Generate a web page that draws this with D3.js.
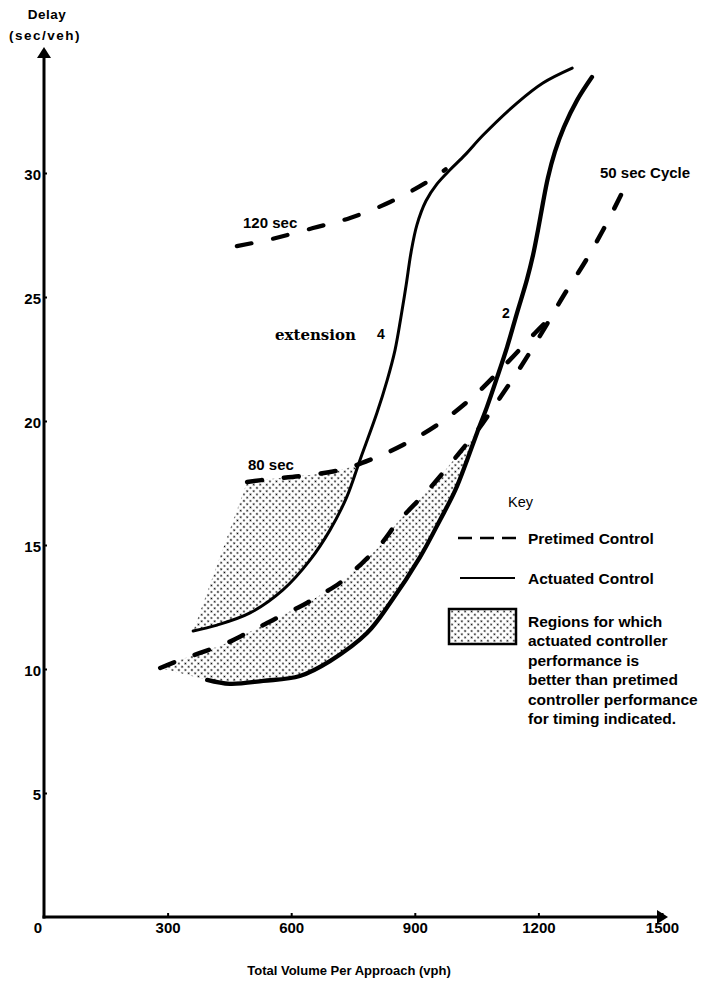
<!DOCTYPE html>
<html>
<head>
<meta charset="utf-8">
<script src="https://cdn.jsdelivr.net/npm/d3@7"></script>
<style>
  body { margin: 0; background: #fff; }
  text { font-family: "Liberation Sans", Arial, Helvetica, sans-serif; fill: #000; }
</style>
</head>
<body>
<svg id="chart" width="707" height="985"></svg>
<script>
// Axis ticks
const xTicks = [0, 300, 600, 900, 1200, 1500];
const yTicks = [5, 10, 15, 20, 25, 30];

// Pretimed control delay (vph, sec/veh) by cycle length
const pretimed120 = [[468, 27.05], [553, 27.34], [653, 27.78], [743, 28.19], [840, 28.83], [930, 29.64], [975, 30.15]];
const pretimed80 = [[493, 17.54], [549, 17.66], [621, 17.78], [718, 18.02], [791, 18.43], [871, 19.03],
                    [961, 19.92], [1041, 20.97], [1119, 22.26], [1192, 23.55], [1223, 24.07]];
const pretimed50 = [[282, 10.04], [330, 10.36], [386, 10.69], [444, 11.05], [493, 11.45], [532, 11.77],
                    [580, 12.18], [629, 12.58], [670, 12.98], [718, 13.47], [767, 14.19], [816, 15.0],
                    [857, 15.89], [937, 17.3], [1010, 18.75], [1053, 19.64], [1100, 20.77], [1160, 22.26],
                    [1218, 23.83], [1262, 25.08], [1313, 26.41], [1357, 27.7], [1398, 29.03], [1410, 29.44]];

// Actuated control delay (vph, sec/veh) by unit extension
const actuated4 = [[362, 11.53], [420, 11.77], [500, 12.26], [580, 13.19], [646, 14.4], [694, 15.6],
                   [735, 16.94], [767, 18.43], [808, 20.32], [833, 21.65], [852, 22.86], [866, 24.15],
                   [879, 25.48], [891, 26.81], [905, 27.9], [927, 28.87], [954, 29.56], [985, 30.12],
                   [1022, 30.73], [1066, 31.53], [1148, 32.82], [1211, 33.63], [1282, 34.23]];
const actuated2 = [[396, 9.56], [451, 9.4], [532, 9.52], [621, 9.72], [694, 10.32], [784, 11.45],
                   [840, 12.66], [913, 14.52], [961, 16.0], [998, 17.2], [1027, 18.43], [1051, 19.52],
                   [1075, 20.56], [1100, 21.77], [1124, 22.98], [1148, 24.35], [1172, 25.69], [1187, 26.69],
                   [1199, 27.7], [1211, 28.79], [1223, 29.8], [1240, 30.85], [1262, 31.85], [1294, 32.94],
                   [1330, 33.87]];

const svg = d3.select("#chart");
const x = d3.scaleLinear().domain([0, 1500]).range([44, 662]);
const y = d3.scaleLinear().domain([0, 30]).range([917, 173]);

// Stipple used for the shaded regions
const defs = svg.append("defs");
const pat = defs.append("pattern")
  .attr("id", "stipple").attr("patternUnits", "userSpaceOnUse")
  .attr("width", 4.6).attr("height", 4.6)
  .attr("patternTransform", "rotate(45)");
pat.append("circle").attr("cx", 2.3).attr("cy", 2.3).attr("r", 0.95).attr("fill", "#000");

const line = d3.line()
  .x(d => x(d[0])).y(d => y(d[1]))
  .curve(d3.curveCatmullRom.alpha(0.5));

const shadeLayer = svg.append("g");
const curveLayer = svg.append("g").attr("fill", "none").attr("stroke", "#000");

function drawCurve(data, width, dashed) {
  const p = curveLayer.append("path")
    .attr("d", line(data))
    .attr("stroke-width", width)
    .attr("stroke-linecap", "round")
    .attr("stroke-linejoin", "round");
  if (dashed) p.attr("stroke-dasharray", "15 22");
  return p.node();
}

const p120 = drawCurve(pretimed120, 4.2, true);
const p80 = drawCurve(pretimed80, 4.5, true);
const p50 = drawCurve(pretimed50, 4.5, true);
const a4 = drawCurve(actuated4, 3, false);
const a2 = drawCurve(actuated2, 4.3, false);

// Polyline samples of a rendered curve
function sample(node, step) {
  const L = node.getTotalLength(), pts = [];
  for (let s = 0; s < L; s += step) { const q = node.getPointAtLength(s); pts.push([q.x, q.y]); }
  const e = node.getPointAtLength(L); pts.push([e.x, e.y]);
  return pts;
}
function segX(p1, p2, p3, p4) {
  const d = (p2[0] - p1[0]) * (p4[1] - p3[1]) - (p2[1] - p1[1]) * (p4[0] - p3[0]);
  if (Math.abs(d) < 1e-9) return null;
  const t = ((p3[0] - p1[0]) * (p4[1] - p3[1]) - (p3[1] - p1[1]) * (p4[0] - p3[0])) / d;
  const u = ((p3[0] - p1[0]) * (p2[1] - p1[1]) - (p3[1] - p1[1]) * (p2[0] - p1[0])) / d;
  if (t < 0 || t > 1 || u < 0 || u > 1) return null;
  return [p1[0] + t * (p2[0] - p1[0]), p1[1] + t * (p2[1] - p1[1])];
}
// Region enclosed by two curves from their starts up to their first crossing
function region(nodeA, nodeB) {
  const a = sample(nodeA, 1), b = sample(nodeB, 1);
  for (let i = 0; i < a.length - 1; i++) {
    for (let j = 0; j < b.length - 1; j++) {
      const pt = segX(a[i], a[i + 1], b[j], b[j + 1]);
      if (pt) return a.slice(0, i + 1).concat([pt], b.slice(0, j + 1).reverse());
    }
  }
  return a.concat(b.slice().reverse());
}
shadeLayer.append("path").attr("d", d3.line()(region(p80, a4)) + "Z").attr("fill", "url(#stipple)");
shadeLayer.append("path").attr("d", d3.line()(region(p50, a2)) + "Z").attr("fill", "url(#stipple)");

// Axes
const yAxis = svg.append("g").attr("transform", `translate(${x(0)},0)`)
  .call(d3.axisLeft(y).tickValues(yTicks).tickSize(-3).tickPadding(3).tickFormat(d3.format("d")));
const xAxis = svg.append("g").attr("transform", `translate(0,${y(0)})`)
  .call(d3.axisBottom(x).tickValues(xTicks.filter(v => v > 0)).tickSize(-4).tickPadding(5).tickFormat(d3.format("d")));
[yAxis, xAxis].forEach(g => {
  g.select(".domain").remove();
  g.selectAll(".tick line").attr("stroke", "#000").attr("stroke-width", 2);
  g.selectAll(".tick text").style("font-size", "15px").style("font-weight", "bold")
    .style("font-family", "'Liberation Sans', Arial, sans-serif");
});
yAxis.selectAll(".tick text").attr("dy", "0.4em");
// Shared origin label
svg.append("text").attr("x", x(0) - 6).attr("y", 933).attr("text-anchor", "middle")
  .style("font-size", "15px").style("font-weight", "bold").text(xTicks[0]);

// Axis lines with arrowheads
const yTop = 47, xEnd = 668;
svg.append("line").attr("x1", x(0)).attr("y1", y(0) + 1.5).attr("x2", x(0)).attr("y2", yTop + 8)
  .attr("stroke", "#000").attr("stroke-width", 3);
svg.append("line").attr("x1", x(0) - 1.5).attr("y1", y(0)).attr("x2", xEnd - 8).attr("y2", y(0))
  .attr("stroke", "#000").attr("stroke-width", 3);
svg.append("path").attr("d", `M${x(0)},${yTop}L${x(0) + 7},${yTop + 11}L${x(0) - 7},${yTop + 11}Z`);
svg.append("path").attr("d", `M${xEnd},${y(0)}L${xEnd - 11},${y(0) - 7}L${xEnd - 11},${y(0) + 7}Z`);

// Axis titles
svg.append("text").attr("x", 47).attr("y", 19).attr("text-anchor", "middle")
  .style("font-size", "13.5px").style("font-weight", "bold").style("letter-spacing", "0.5px").text("Delay");
svg.append("text").attr("x", 45).attr("y", 40).attr("text-anchor", "middle")
  .style("font-size", "13.5px").style("font-weight", "bold").style("letter-spacing", "1.5px").text("(sec/veh)");
svg.append("text").attr("x", 349).attr("y", 975).attr("text-anchor", "middle")
  .style("font-size", "13px").style("font-weight", "bold").text("Total Volume Per Approach (vph)");

// Curve labels
const lab = (tx, ty, s, size) => svg.append("text").attr("x", tx).attr("y", ty)
  .style("font-size", (size || 15) + "px").style("font-weight", "bold").text(s);
lab(243, 228, "120 sec");
lab(248, 470, "80 sec");
lab(600, 178, "50 sec Cycle");
lab(502, 318, "2", 14);
lab(377, 339, "4", 14);
svg.append("text").attr("x", 275).attr("y", 340)
  .style("font-family", "'DejaVu Serif', 'Liberation Serif', serif")
  .style("font-size", "15px").style("font-weight", "bold").text("extension");

// Key
const key = svg.append("g");
key.append("text").attr("x", 508).attr("y", 507).style("font-size", "14.5px").text("Key");
key.append("line").attr("x1", 458).attr("x2", 520).attr("y1", 538).attr("y2", 538)
  .attr("stroke", "#000").attr("stroke-width", 2.5).attr("stroke-dasharray", "14 8");
key.append("text").attr("x", 528).attr("y", 544).style("font-size", "15.5px").style("font-weight", "bold")
  .text("Pretimed Control");
key.append("line").attr("x1", 460).attr("x2", 515).attr("y1", 578).attr("y2", 578)
  .attr("stroke", "#000").attr("stroke-width", 2);
key.append("text").attr("x", 528).attr("y", 584).style("font-size", "15.5px").style("font-weight", "bold")
  .text("Actuated Control");
key.append("rect").attr("x", 449).attr("y", 609).attr("width", 67).attr("height", 35)
  .attr("fill", "url(#stipple)").attr("stroke", "#000").attr("stroke-width", 2.5);
const keyLines = ["Regions for which", "actuated controller", "performance is",
                  "better than pretimed", "controller performance", "for timing indicated."];
key.selectAll("text.reg").data(keyLines).join("text").attr("class", "reg")
  .attr("x", 528).attr("y", (d, i) => 627 + i * 19.4)
  .style("font-size", "15.5px").style("font-weight", "bold").text(d => d);
</script>
</body>
</html>
